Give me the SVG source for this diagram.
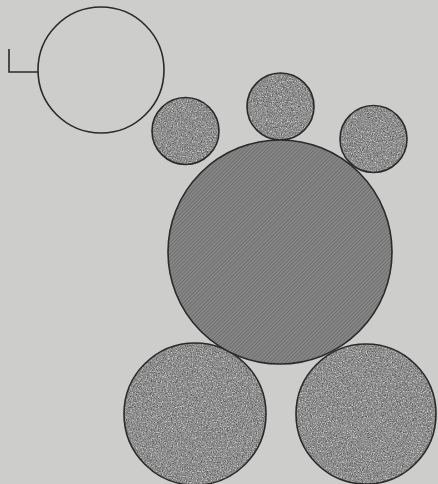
<svg xmlns="http://www.w3.org/2000/svg" width="438" height="484" viewBox="0 0 438 484">
<defs>
<style>
.o{fill:none;stroke:#2a2a2a;stroke-width:1.6}
.st{fill:#8e8e8e}
</style>
<filter id="stip" x="0" y="0" width="100%" height="100%" color-interpolation-filters="sRGB">
<feTurbulence type="fractalNoise" baseFrequency="0.8" numOctaves="2" seed="3" result="n"/>
<feColorMatrix in="n" type="matrix" values="0 0 0 0 0.35  0 0 0 0 0.35  0 0 0 0 0.35  3.2 0 0 0 -1.5" result="d"/>
<feColorMatrix in="n" type="matrix" values="0 0 0 0 0.8  0 0 0 0 0.8  0 0 0 0 0.8  0 3.2 0 0 -1.6" result="l"/>
<feMerge result="m"><feMergeNode in="SourceGraphic"/><feMergeNode in="d"/><feMergeNode in="l"/></feMerge>
<feComposite in="m" in2="SourceGraphic" operator="in"/>
</filter>
<pattern id="hatch" width="2.6" height="2.6" patternUnits="userSpaceOnUse" patternTransform="rotate(45)">
<rect width="2.6" height="2.6" fill="#8c8c8c"/>
<rect width="1.1" height="2.6" fill="#6c6c6c"/>
</pattern>
</defs>
<rect width="438" height="484" fill="#cdcdcb"/>
<g id="open-circle">
<circle cx="101" cy="70" r="63" class="o"/>
</g>
<g id="bracket">
<path d="M9 49 V72 H38" class="o"/>
</g>
<g id="small-left">
<circle cx="185.5" cy="131" r="33.5" class="st" filter="url(#stip)"/>
<circle cx="185.5" cy="131" r="33.5" class="o"/>
</g>
<g id="small-middle">
<circle cx="280.5" cy="106.5" r="33.5" class="st" filter="url(#stip)"/>
<circle cx="280.5" cy="106.5" r="33.5" class="o"/>
</g>
<g id="small-right">
<circle cx="373.5" cy="139" r="33.5" class="st" filter="url(#stip)"/>
<circle cx="373.5" cy="139" r="33.5" class="o"/>
</g>
<g id="bottom-left">
<circle cx="195" cy="414" r="71" class="st" filter="url(#stip)"/>
<circle cx="195" cy="414" r="71" class="o"/>
</g>
<g id="bottom-right">
<circle cx="366" cy="414" r="70" class="st" filter="url(#stip)"/>
<circle cx="366" cy="414" r="70" class="o"/>
</g>
<g id="big-circle">
<circle cx="280" cy="252" r="112" fill="url(#hatch)"/>
<circle cx="280" cy="252" r="112" class="o"/>
</g>
<g id="connectors"></g>
</svg>
